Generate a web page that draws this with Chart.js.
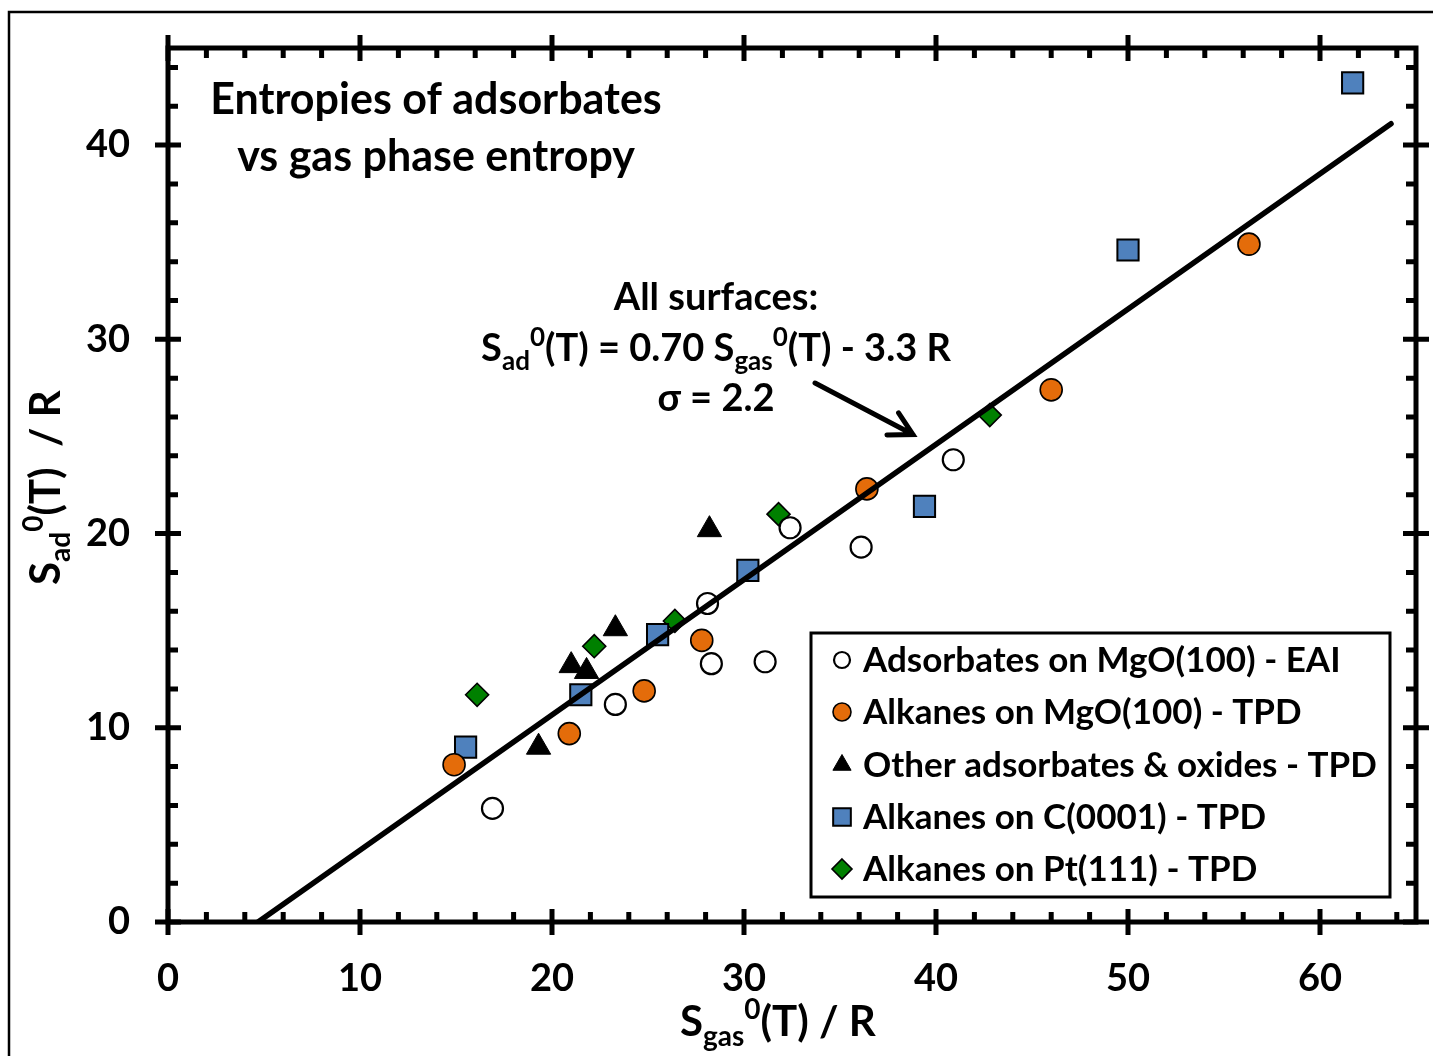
<!DOCTYPE html>
<html>
<head>
<meta charset="utf-8">
<script src="https://cdn.jsdelivr.net/npm/chart.js@4.4.0/dist/chart.umd.min.js"></script>
<style>
  html, body { margin: 0; padding: 0; background: #fff; }
  canvas { display: block; }
</style>
</head>
<body>
<canvas id="entropy-chart" width="1433" height="1056"></canvas>
<script>
// S_gas/R (x) and S_ad/R (y)
const mgoEaiX = [16.9, 23.3, 28.1, 28.3, 31.1, 32.4, 36.1, 40.9];
const mgoEaiY = [5.85, 11.2, 16.4, 13.3, 13.4, 20.3, 19.3, 23.8];
const mgoTpdX = [14.9, 20.9, 24.8, 27.8, 36.4, 46.0, 56.3];
const mgoTpdY = [8.1, 9.7, 11.9, 14.5, 22.3, 27.4, 34.9];
const otherX = [19.3, 21.0, 21.8, 23.3, 28.2];
const otherY = [9.0, 13.2, 12.9, 15.1, 20.2];
const graphiteX = [15.5, 21.5, 25.5, 30.2, 39.4, 50.0, 61.7];
const graphiteY = [9.0, 11.7, 14.8, 18.1, 21.4, 34.6, 43.2];
const ptX = [16.1, 22.2, 26.4, 31.8, 42.8];
const ptY = [11.7, 14.2, 15.5, 21.0, 26.1];

// fitted line end points
const fitX = [4.69, 63.7];
const fitY = [0, 41.1];

const seriesLabels = [
  'Adsorbates on MgO(100) - EAI',
  'Alkanes on MgO(100) - TPD',
  'Other adsorbates & oxides - TPD',
  'Alkanes on C(0001) - TPD',
  'Alkanes on Pt(111) - TPD'
];

const FONT = 'Lato, "Open Sans", sans-serif';
const ctx = document.getElementById('entropy-chart').getContext('2d');

const toPoints = (xs, ys) => xs.map((x, i) => ({ x: x, y: ys[i] }));

const markerStyles = [
  { pointStyle: 'circle', radius: 10.5, fill: '#ffffff', border: '#000000', bw: 2.2, legendR: 8 },
  { pointStyle: 'circle', radius: 11, fill: '#E46C0A', border: '#000000', bw: 1.6, legendR: 9 },
  { pointStyle: 'triangle', radius: 14, fill: '#000000', border: '#000000', bw: 1, legendR: 10.5 },
  { pointStyle: 'rect', radius: 15, fill: '#4F81BD', border: '#000000', bw: 2, legendR: 12.5 },
  { pointStyle: 'rectRot', radius: 11.5, fill: '#008000', border: '#000000', bw: 1.6, legendR: 10 }
];

const seriesData = [
  toPoints(mgoEaiX, mgoEaiY),
  toPoints(mgoTpdX, mgoTpdY),
  toPoints(otherX, otherY),
  toPoints(graphiteX, graphiteY),
  toPoints(ptX, ptY)
];

const datasets = [{
  label: 'fit',
  type: 'line',
  data: toPoints(fitX, fitY),
  borderColor: '#000000',
  borderWidth: 5.5,
  borderCapStyle: 'round',
  pointRadius: 0,
  fill: false,
  order: -1
}];
seriesData.forEach((d, i) => {
  const m = markerStyles[i];
  datasets.push({
    label: seriesLabels[i],
    data: d,
    pointStyle: m.pointStyle,
    pointRadius: m.radius,
    pointBackgroundColor: m.fill,
    pointBorderColor: m.border,
    pointBorderWidth: m.bw,
    order: i
  });
});

// text with sub/superscripts: parts = [text, size, dy]
function drawRich(c, parts, x, y, align) {
  let total = 0;
  parts.forEach(p => {
    c.font = 'bold ' + p[1] + 'px ' + FONT;
    p.w = c.measureText(p[0]).width;
    total += p.w;
  });
  let cx = align === 'center' ? x - total / 2 : x;
  c.textAlign = 'left';
  c.textBaseline = 'alphabetic';
  parts.forEach(p => {
    c.font = 'bold ' + p[1] + 'px ' + FONT;
    c.fillText(p[0], cx, y + p[2]);
    cx += p.w;
  });
}

function drawMarker(c, style, r, x, y) {
  c.beginPath();
  if (style === 'circle') {
    c.arc(x, y, r, 0, Math.PI * 2);
  } else if (style === 'triangle') {
    c.moveTo(x, y - r);
    c.lineTo(x + r * 0.866, y + r * 0.5);
    c.lineTo(x - r * 0.866, y + r * 0.5);
    c.closePath();
  } else if (style === 'rect') {
    const s = r * Math.SQRT1_2;
    c.rect(x - s, y - s, 2 * s, 2 * s);
  } else {
    c.moveTo(x, y - r);
    c.lineTo(x + r, y);
    c.lineTo(x, y + r);
    c.lineTo(x - r, y);
    c.closePath();
  }
  c.fill();
  c.stroke();
}

const decorations = {
  id: 'decorations',
  beforeDraw(chart) {
    const c = chart.ctx;
    c.save();
    c.strokeStyle = '#000';
    c.lineWidth = 2.5;
    c.beginPath();
    c.moveTo(9, 1056);
    c.lineTo(9, 12);
    c.lineTo(1433, 12);
    c.stroke();
    c.restore();
  },
  afterDatasetsDraw(chart) {
    const c = chart.ctx;
    const xs = chart.scales.x;
    const ys = chart.scales.y;
    const a = chart.chartArea;
    c.save();
    c.strokeStyle = '#000';
    c.fillStyle = '#000';

    // axis box
    c.lineWidth = 5;
    c.strokeRect(a.left, a.top, a.right - a.left, a.bottom - a.top);

    // ticks on all four sides
    c.lineWidth = 5;
    c.beginPath();
    for (let v = xs.min; v <= xs.max; v += 2) {
      const px = xs.getPixelForValue(v);
      if (v % 10 === 0) {
        c.moveTo(px, a.bottom - 13); c.lineTo(px, a.bottom + 13);
        c.moveTo(px, a.top - 13); c.lineTo(px, a.top + 13);
      } else {
        c.moveTo(px, a.bottom); c.lineTo(px, a.bottom - 10);
        c.moveTo(px, a.top); c.lineTo(px, a.top + 10);
      }
    }
    for (let v = ys.min; v <= ys.max; v += 2) {
      const py = ys.getPixelForValue(v);
      if (v % 10 === 0) {
        c.moveTo(a.left - 13, py); c.lineTo(a.left + 13, py);
        c.moveTo(a.right - 13, py); c.lineTo(a.right + 13, py);
      } else {
        c.moveTo(a.left, py); c.lineTo(a.left + 10, py);
        c.moveTo(a.right, py); c.lineTo(a.right - 10, py);
      }
    }
    c.stroke();

    // title
    c.textAlign = 'center';
    c.textBaseline = 'alphabetic';
    c.font = 'bold 43px ' + FONT;
    c.fillText('Entropies of adsorbates', 436, 114);
    c.fillText('vs gas phase entropy', 436, 171);

    // fit annotation
    c.font = 'bold 38px ' + FONT;
    c.fillText('All surfaces:', 716, 310);
    drawRich(c, [
      ['S', 38, 0], ['ad', 26, 9], ['0', 26, -15], ['(T) = 0.70 S', 38, 0],
      ['gas', 26, 9], ['0', 26, -15], ['(T) - 3.3 R', 38, 0]
    ], 716, 361, 'center');
    c.textAlign = 'center';
    c.font = 'bold 38px ' + FONT;
    c.fillText('\u03c3 = 2.2', 716, 411);

    // arrow
    const x0 = xs.getPixelForValue(33.7), y0 = ys.getPixelForValue(27.75);
    const x1 = xs.getPixelForValue(38.8), y1 = ys.getPixelForValue(25.1);
    const ang = Math.atan2(y1 - y0, x1 - x0);
    c.lineWidth = 5;
    c.lineCap = 'round';
    c.beginPath();
    c.moveTo(x0, y0); c.lineTo(x1, y1);
    c.moveTo(x1 - 26 * Math.cos(ang - 0.5), y1 - 26 * Math.sin(ang - 0.5));
    c.lineTo(x1, y1);
    c.lineTo(x1 - 26 * Math.cos(ang + 0.5), y1 - 26 * Math.sin(ang + 0.5));
    c.stroke();
    c.lineCap = 'butt';

    // axis titles
    drawRich(c, [['S', 42, 0], ['gas', 28, 10], ['0', 28, -17], ['(T) / R', 42, 0]], 680, 1036, 'left');
    c.save();
    c.translate(60, 585);
    c.rotate(-Math.PI / 2);
    drawRich(c, [['S', 42, 0], ['ad', 28, 10], ['0', 28, -17], ['(T)  / R', 42, 0]], 0, 0, 'left');
    c.restore();

    // legend
    c.fillStyle = '#fff';
    c.fillRect(811, 633, 579, 264);
    c.lineWidth = 3;
    c.strokeStyle = '#000';
    c.strokeRect(811, 633, 579, 264);
    const rowY = [660, 712, 765, 817, 869];
    seriesLabels.forEach((lab, i) => {
      const m = markerStyles[i];
      c.fillStyle = m.fill;
      c.strokeStyle = m.border;
      c.lineWidth = m.bw;
      drawMarker(c, m.pointStyle, m.legendR, 842, rowY[i]);
      c.fillStyle = '#000';
      c.textAlign = 'left';
      c.textBaseline = 'alphabetic';
      c.font = 'bold 35px ' + FONT;
      c.fillText(lab, 863, rowY[i] + 12);
    });
    c.restore();
  }
};

new Chart(ctx, {
  type: 'scatter',
  data: { datasets: datasets },
  options: {
    responsive: false,
    animation: false,
    layout: { padding: { top: 48, right: 16, left: 0, bottom: 0 } },
    plugins: {
      legend: { display: false },
      tooltip: { enabled: false }
    },
    scales: {
      x: {
        type: 'linear',
        min: 0,
        max: 65,
        grid: { display: false },
        border: { display: false },
        afterFit: (scale) => {
          scale.height = 134;
          scale.paddingLeft = 0;
          scale.paddingRight = 0;
        },
        ticks: {
          stepSize: 10,
          includeBounds: false,
          padding: 26,
          color: '#000',
          font: { family: FONT, size: 38, weight: 'bold' }
        }
      },
      y: {
        type: 'linear',
        min: 0,
        max: 45,
        grid: { display: false },
        border: { display: false },
        afterFit: (scale) => {
          scale.width = 168;
          scale.paddingTop = 0;
          scale.paddingBottom = 0;
        },
        ticks: {
          stepSize: 10,
          includeBounds: false,
          padding: 30,
          color: '#000',
          font: { family: FONT, size: 38, weight: 'bold' }
        }
      }
    }
  },
  plugins: [decorations]
});
</script>
</body>
</html>
